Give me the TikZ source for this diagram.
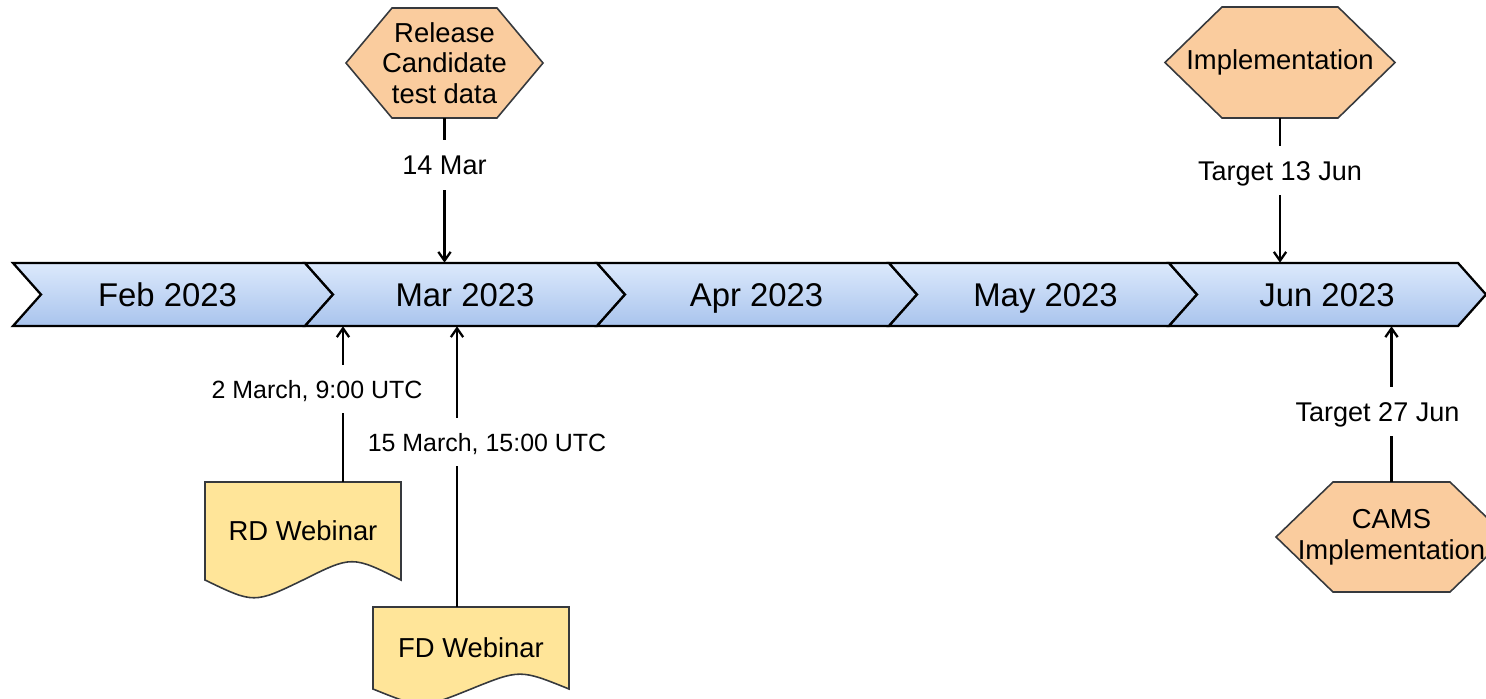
\documentclass[tikz,border=0pt]{standalone}
\usepackage{fontspec}
\setmainfont{Liberation Sans}
\usetikzlibrary{arrows.meta}
\definecolor{chevtop}{RGB}{220,233,252}
\definecolor{chevbot}{RGB}{169,196,237}
\definecolor{hexfill}{RGB}{250,204,158}
\definecolor{docfill}{RGB}{255,229,153}
\definecolor{shapeline}{RGB}{54,57,61}
\begin{document}
\begin{tikzpicture}[x=0.02cm, y=-0.02cm,
    chev/.style={draw=black, line width=1.3pt, top color=chevtop, bottom color=chevbot},
    month/.style={inner sep=0pt, minimum height=1.26cm, text height=13.4pt, text depth=0pt, font=\fontsize{18.7}{22}\selectfont},
    hexa/.style={draw=shapeline, fill=hexfill, line width=0.9pt},
    doc/.style={draw=shapeline, fill=docfill, line width=0.9pt},
    boxtext/.style={inner sep=0pt, align=center, font=\fontsize{15.6}{17.4}\selectfont},
    conn/.style={-{Straight Barb[length=5pt, width=7pt]}, line width=1.3pt},
    lbl/.style={fill=white, inner xsep=1pt, inner ysep=0.3cm, text height=11pt, text depth=0pt, font=\fontsize{15.4}{18}\selectfont},
    slbl/.style={lbl, text height=10.2pt, font=\fontsize{14.2}{17}\selectfont}]
    \useasboundingbox (0,0) rectangle (1486,699);

    % timeline
    \foreach \a/\b in {13/305, 305/597, 597/889, 889/1169, 1169/1458}
        \draw[chev] (\a,263) -- (\b,263) -- (\b+28,294.5) -- (\b,326) -- (\a,326) -- (\a+28,294.5) -- cycle;
    \node[month] (feb) at (167.5,294.5) {Feb 2023};
    \node[month] (mar) at (465,294.5) {Mar 2023};
    \node[month] (apr) at (756.5,294.5) {Apr 2023};
    \node[month] (may) at (1045.5,294.5) {May 2023};
    \node[month] (jun) at (1327,294.5) {Jun 2023};

    % milestones above
    \draw[hexa] (346,63) -- (392,8) -- (497,8) -- (543,63) -- (497,118) -- (392,118) -- cycle;
    \node[boxtext, minimum height=2.2cm] (rc) at (444.5,63) {Release\\Candidate\\test data};
    \draw[hexa] (1165,62.5) -- (1222,7) -- (1338,7) -- (1395,62.5) -- (1338,118) -- (1222,118) -- cycle;
    \node[boxtext, minimum height=2.22cm] (impl) at (1280,62.5) {Implementation};

    % webinars and CAMS below
    \draw[doc] (205,482) -- (401,482) -- (401,580) .. controls (352,555.6) .. (303,580) .. controls (254,603.7) .. (205,580) -- cycle;
    \node[boxtext, minimum height=1.96cm] (rd) at (303,531) {RD Webinar};
    \draw[doc] (373,607) -- (569,607) -- (569,689) .. controls (520,669.2) .. (471,689) .. controls (422,708.8) .. (373,689) -- cycle;
    \node[boxtext, minimum height=1.64cm] (fd) at (471,648) {FD Webinar};
    \draw[hexa] (1276,537) -- (1333,482) -- (1450,482) -- (1507,537) -- (1450,592) -- (1333,592) -- cycle;
    \node[boxtext, minimum height=2.2cm] (cams) at (1391.5,537) {CAMS\\Implementation};

    \draw[conn] (rc.south) -- node[lbl, pos=.324] {14 Mar} (rc.south |- mar.north);
    \draw[conn] (impl.south) -- node[lbl, pos=.362] {Target 13 Jun} (impl.south |- jun.north);
    \draw[conn] ([xshift=0.8cm]rd.north) -- node[slbl, pos=.596, xshift=-0.52cm] {2 March, 9:00 UTC} ([xshift=0.8cm]rd.north |- mar.south);
    \draw[conn] ([xshift=-0.28cm]fd.north) -- node[slbl, pos=.587, xshift=0.6cm] {15 March, 15:00 UTC} ([xshift=-0.28cm]fd.north |- mar.south);
    \draw[conn] (cams.north) -- node[lbl, pos=.452, xshift=-0.28cm] {Target 27 Jun} (cams.north |- jun.south);
\end{tikzpicture}
\end{document}
